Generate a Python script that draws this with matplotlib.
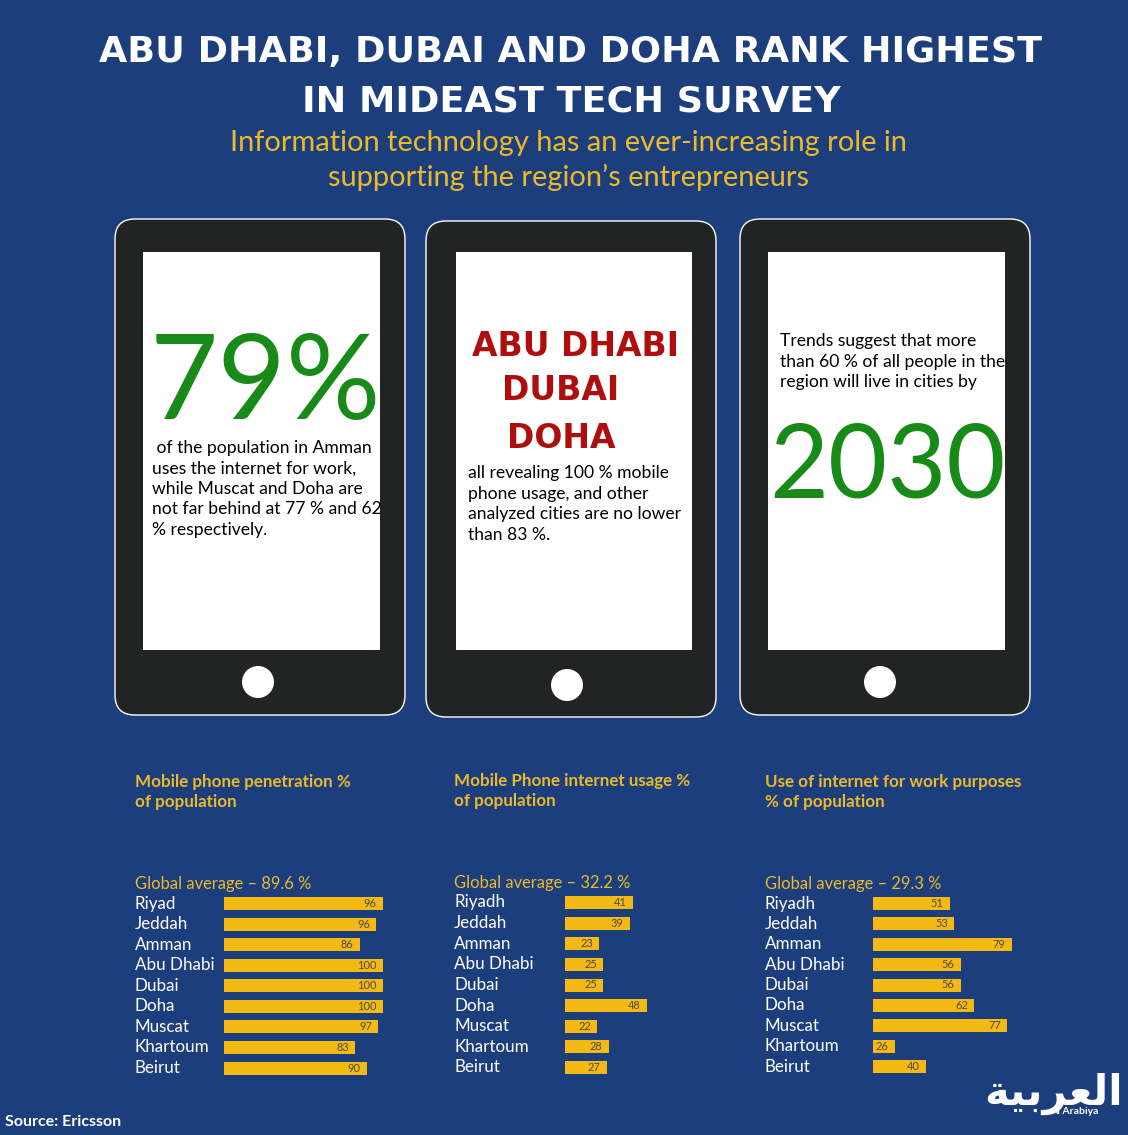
import matplotlib
matplotlib.use('Agg')
import matplotlib.pyplot as plt
from matplotlib.patches import FancyBboxPatch, Rectangle, Circle
from matplotlib.transforms import blended_transform_factory

W, H = 1128, 1135
BG = '#1c3e7c'
YELLOW = '#f5b913'
HEAD = '#eab92c'
DARK = '#222423'
GREEN = '#178a17'
RED = '#ae0e0e'
BODY = 'Lato'

# Chart data
cities_a = ['Riyad', 'Jeddah', 'Amman', 'Abu Dhabi', 'Dubai', 'Doha', 'Muscat', 'Khartoum', 'Beirut']
cities_b = ['Riyadh', 'Jeddah', 'Amman', 'Abu Dhabi', 'Dubai', 'Doha', 'Muscat', 'Khartoum', 'Beirut']
penetration = [96, 96, 86, 100, 100, 100, 97, 83, 90]
# Riyad's bar is drawn as long as the 100 bars in the original
penetration_bars = [100, 96, 86, 100, 100, 100, 97, 83, 90]
internet_usage = [41, 39, 23, 25, 25, 48, 22, 28, 27]
work_usage = [51, 53, 79, 56, 56, 62, 77, 26, 40]

plt.rcParams['font.family'] = [BODY, 'DejaVu Sans']

fig = plt.figure(figsize=(W / 100, H / 100), dpi=100, facecolor=BG)
ax = fig.add_axes([0, 0, 1, 1])
ax.set_xlim(0, W)
ax.set_ylim(H, 0)
ax.axis('off')


def px(size):
    return size * 0.72


def txt(x, y, s, size, color='black', ha='left', weight='normal', family=None):
    ax.text(x, y, s, fontsize=px(size), color=color, ha=ha, va='center',
            fontweight=weight, family=family or BODY)


# Title
txt(571, 52, 'ABU DHABI, DUBAI AND DOHA RANK HIGHEST', 36.5, 'white', 'center', 'bold', 'DejaVu Sans')
txt(571, 101, 'IN MIDEAST TECH SURVEY', 36.5, 'white', 'center', 'bold', 'DejaVu Sans')
txt(568, 143, 'Information technology has an ever-increasing role in', 29, HEAD, 'center')
txt(569, 177, 'supporting the region\u2019s entrepreneurs', 29, HEAD, 'center')


# Phones
def phone(x, y, sx0, sx1, bx, by):
    ax.add_patch(FancyBboxPatch((x + 20, y + 20), 250, 456, boxstyle='round,pad=20,rounding_size=20',
                                fc=DARK, ec='white', lw=1))
    ax.add_patch(Rectangle((sx0, 252), sx1 - sx0, 398, fc='white', ec='none'))
    ax.add_patch(Circle((bx, by), 16, fc='white', ec='none'))


phone(115, 219, 143, 380, 258, 682)
phone(426, 221, 456, 692, 567, 685)
phone(740, 219, 768, 1005, 880, 682)

# Phone 1
txt(150, 386, '79%', 118, GREEN)
for i, line in enumerate([' of the population in Amman', 'uses the internet for work,',
                          'while Muscat and Doha are', 'not far behind at 77 % and 62',
                          '% respectively.']):
    txt(152, 448 + i * 20.5, line, 17.5)

# Phone 2
txt(576, 346, 'ABU DHABI', 33, RED, 'center', 'bold', 'DejaVu Sans')
txt(561, 391, 'DUBAI', 33, RED, 'center', 'bold', 'DejaVu Sans')
txt(561, 438, 'DOHA', 33, RED, 'center', 'bold', 'DejaVu Sans')
for i, line in enumerate(['all revealing 100 % mobile', 'phone usage, and other',
                          'analyzed cities are no lower', 'than 83 %.']):
    txt(468, 473 + i * 20.5, line, 17.5)

# Phone 3
for i, line in enumerate(['Trends suggest that more', 'than 60 % of all people in the',
                          'region will live in cities by']):
    txt(780, 341 + i * 20.5, line, 17.5)
txt(887, 468, '2030', 102, GREEN, 'center')


# Bar panels
def panel(x_text, x_bar, title, avg, cities, bars, labels, y_first, y_last, start, scale, y_title, y_avg):
    txt(x_text, y_title, title[0], 17, HEAD, weight='bold')
    txt(x_text, y_title + 20, title[1], 17, HEAD, weight='bold')
    txt(x_text, y_avg, avg, 16.5, HEAD)
    step = (y_last - y_first) / (len(cities) - 1)
    top = y_first - step / 2
    bottom = y_last + step / 2
    width = (105 - start) * scale
    bax = fig.add_axes([x_bar / W, 1 - bottom / H, width / W, (bottom - top) / H])
    bax.set_xlim(start, 105)
    bax.set_ylim(len(cities) - 0.5, -0.5)
    bax.axis('off')
    y_pos = range(len(cities))
    bax.barh(y_pos, bars, height=13 / step, color=YELLOW, left=0)
    tr = blended_transform_factory(ax.transData, bax.transData)
    for i in y_pos:
        ax.text(x_text, y_first + i * step, cities[i], fontsize=px(17), color='white', va='center', family=BODY)
        bax.annotate(str(labels[i]), (bars[i], i), xytext=(-4.5, 0), textcoords='offset points', ha='right',
                     va='center', fontsize=px(11), color='#4a4a3a', family=BODY)


panel(135, 224, ('Mobile phone penetration %', 'of population'), 'Global average \u2013 89.6 %',
      cities_a, penetration_bars, penetration, 903.5, 1068, 3.6, 1.65, 782, 884)
panel(454, 565, ('Mobile Phone internet usage %', 'of population'), 'Global average \u2013 32.2 %',
      cities_b, internet_usage, internet_usage, 902.5, 1067.5, 5, 1.9, 781, 883)
panel(765, 873, ('Use of internet for work purposes', '% of population'), 'Global average \u2013 29.3 %',
      cities_b, work_usage, work_usage, 903.5, 1066.5, 16, 2.2, 782, 884)

# Footer and logo
txt(5, 1122, 'Source: Ericsson', 16, 'white', weight='bold')
txt(1054, 1094, '\ufe94\ufef4\ufe91\ufeae\ufecc\ufedf\ufe8d', 42, 'white', 'center', 'bold', 'DejaVu Sans')
txt(1050, 1111, 'Al Arabiya', 10.5, 'white', weight='bold')

fig.savefig('out.png', dpi=100, facecolor=BG)
